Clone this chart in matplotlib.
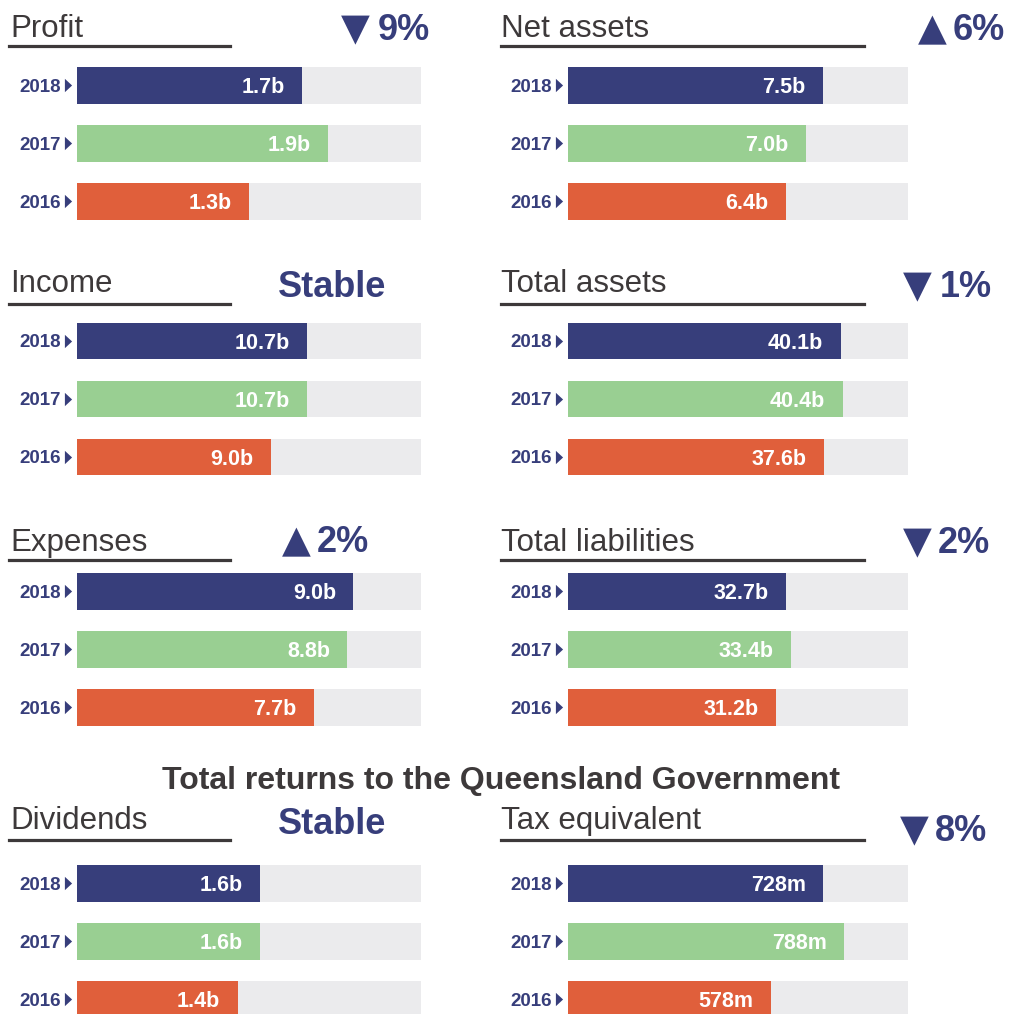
import matplotlib
matplotlib.use("Agg")
import matplotlib.pyplot as plt
from matplotlib.lines import Line2D
from matplotlib.path import Path
import matplotlib.transforms as mtransforms

plt.rcParams['font.family'] = ['Liberation Sans', 'DejaVu Sans']

W, H = 1019, 1014

# data
years = ["2018", "2017", "2016"]
titles = ["Profit", "Net assets", "Income", "Total assets",
          "Expenses", "Total liabilities", "Dividends", "Tax equivalent"]
profit = [1.7, 1.9, 1.3]
net_assets = [7.5, 7.0, 6.4]
income = [10.7, 10.7, 9.0]
total_assets = [40.1, 40.4, 37.6]
expenses = [9.0, 8.8, 7.7]
total_liabilities = [32.7, 33.4, 31.2]
dividends = [1.6, 1.6, 1.4]
tax_equivalent = [728, 788, 578]
units = ["b", "b", "b", "b", "b", "b", "b", "m"]
trend = ["down", "up", "stable", "down", "up", "down", "stable", "down"]
change_pct = [9, 6, None, 1, 2, 2, None, 8]
scale_max = [2.6, 10, 16, 50, 11.2, 51, 3.0, 970]

series = [profit, net_assets, income, total_assets,
          expenses, total_liabilities, dividends, tax_equivalent]

navy = "#373e7b"
green = "#99cf92"
orange = "#e05f3b"
bg = "#ebebed"
dark = "#3d393a"
bar_colors = [navy, green, orange]

# layout (pixels)
bar_top = [67, 322.5, 573, 865]
title_base = [37, 292, 551, 829]
line_y = [46, 304, 560, 840]
ind_base = [40, 40, 297, 297, 552, 553, 834, 841]
ind_x = [(355, 378), (932, 953), (332, None), (917, 940),
         (296, 317), (917, 938), (332, None), (914, 935)]
col_left = [77, 568]
col_w = [344, 340]
title_x = [10, 501]
line_x = [(9, 230), (501, 864)]
pitch, bar_h = 58, 36.5


def fx(x):
    return x / W


def fy(y):
    return 1 - y / H


fig = plt.figure(figsize=(W / 100, H / 100), dpi=100)
fig.patch.set_facecolor("white")

tri = Path([(-0.27, -0.5), (0.27, 0.0), (-0.27, 0.5), (-0.27, -0.5)],
           [Path.MOVETO, Path.LINETO, Path.LINETO, Path.CLOSEPOLY])

for k, vals in enumerate(series):
    row, col = k // 2, k % 2
    ax_h = 2 * pitch + bar_h
    ax = fig.add_axes([fx(col_left[col]), fy(bar_top[row] + ax_h),
                       col_w[col] / W, ax_h / H])
    h = bar_h / pitch
    ypos = list(range(len(years)))
    ax.barh(ypos, [scale_max[k]] * len(ypos), height=h, color=bg, lw=0)
    ax.barh(ypos, vals, height=h, color=bar_colors, lw=0)
    ax.set_xlim(0, scale_max[k])
    ax.set_ylim(2 + h / 2, -h / 2)
    ax.axis("off")

    for i, v in enumerate(vals):
        lab = f"{v:.1f}{units[k]}" if units[k] == "b" else f"{v:.0f}{units[k]}"
        ax.annotate(lab, xy=(v, i), xytext=(-12.5, 0), textcoords="offset points",
                    ha="right", va="center_baseline", color="white",
                    fontsize=15.5, fontweight="bold")
        ax.annotate(years[i], xy=(0, i), xycoords=ax.get_yaxis_transform(),
                    xytext=(-11.5, 0), textcoords="offset points",
                    ha="right", va="center_baseline", color=navy,
                    fontsize=13.5, fontweight="bold", annotation_clip=False)
    off = mtransforms.offset_copy(ax.get_yaxis_transform(), fig=fig, x=-9, y=0, units="dots")
    ax.plot([0] * len(ypos), ypos, ls="none", marker=tri, ms=9.6,
            color=navy, mew=0, transform=off, clip_on=False)

    # panel title + underline
    fig.text(fx(title_x[col]), fy(title_base[row]), titles[k], fontsize=22.5,
             color=dark, va="baseline", ha="left")
    x0, x1 = line_x[col]
    fig.add_artist(Line2D([fx(x0), fx(x1)], [fy(line_y[row])] * 2,
                          transform=fig.transFigure, color=dark, lw=2.3))

    # change indicator
    if trend[k] == "stable":
        fig.text(fx(ind_x[k][0]), fy(ind_base[k]), "Stable", fontsize=26,
                 fontweight="bold", color=navy, ha="center", va="baseline")
    else:
        sym = "\u25BC" if trend[k] == "down" else "\u25B2"
        fig.text(fx(ind_x[k][0]), fy(ind_base[k]), sym, fontsize=27,
                 family="DejaVu Sans", color=navy, ha="center", va="baseline")
        fig.text(fx(ind_x[k][1]), fy(ind_base[k]), f"{change_pct[k]}%", fontsize=26,
                 fontweight="bold", color=navy, ha="left", va="baseline")

fig.text(fx(501), fy(789), "Total returns to the Queensland Government",
         fontsize=23, fontweight="bold", color=dark, ha="center", va="baseline")

fig.savefig("out.png", dpi=100, facecolor="white")
